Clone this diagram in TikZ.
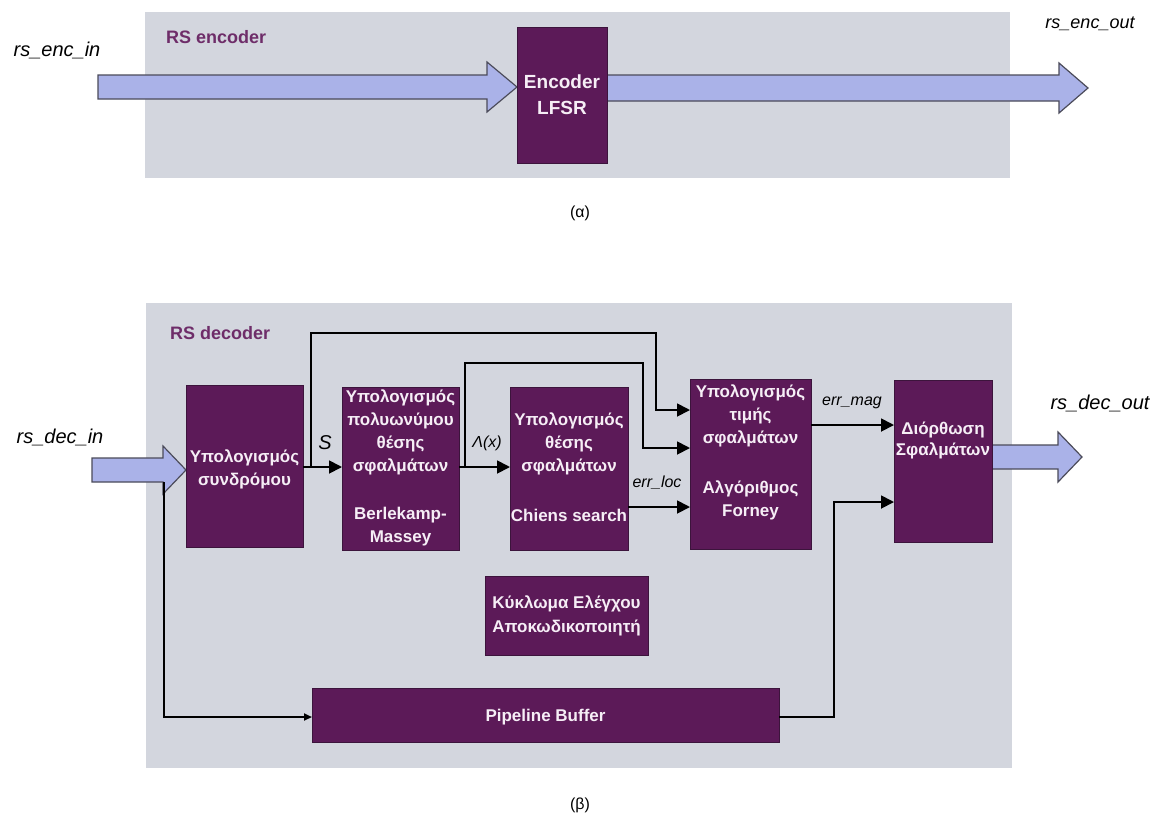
\documentclass[tikz,border=0pt]{standalone}
\usepackage{fontspec}
\setmainfont{Liberation Sans}
\usetikzlibrary{arrows.meta}
\definecolor{bggray}{RGB}{211,214,222}
\definecolor{boxpurple}{RGB}{92,26,88}
\definecolor{boxedge}{RGB}{60,20,60}
\definecolor{lblpurple}{RGB}{110,45,105}
\definecolor{fatfill}{RGB}{170,178,232}
\definecolor{fatedge}{RGB}{75,75,90}
\definecolor{boxtext}{RGB}{246,238,246}
\newcommand\bxf{\fontsize{17}{23}\selectfont\bfseries}
\newcommand\lblf{\fontsize{16}{20}\selectfont\itshape}
\begin{document}
\begin{tikzpicture}[x=1pt,y=-1pt,
  pbox/.style={fill=boxpurple,draw=boxedge,line width=0.8pt,inner sep=0pt,outer sep=0pt},
  btext/.style={text=boxtext,font=\bxf,align=center,inner sep=0pt},
  sig/.style={font=\lblf,inner sep=0pt},
  pin/.style={font=\fontsize{20}{24}\selectfont\itshape,inner sep=0pt},
  sect/.style={font=\fontsize{18}{22}\selectfont\bfseries,text=lblpurple,inner sep=0pt,anchor=west},
  line/.style={draw=black,line width=1.8pt},
  arr/.style={line,-{Triangle[length=13pt,width=13pt]}},
  fat/.style={fill=fatfill,draw=fatedge,line width=1.2pt},
  panel/.style={fill=bggray,draw=none},
  captxt/.style={font=\fontsize{16}{20}\selectfont,inner sep=0pt}]
\useasboundingbox (0,0) rectangle (1166,822);
\fill[white] (0,0) rectangle (1166,822);

% ---------- encoder ----------
\fill[panel] (145,12) rectangle (1010,178);
\node[sect] (enclbl) at (166,37) {RS encoder};
\node[pin] (encin) at (57,50) {rs\_enc\_in};
\node[pin,font=\fontsize{18}{22}\selectfont\itshape] (encout) at (1090,24) {rs\_enc\_out};
\path[fat] (98,75) -- (487,75) -- (487,62) -- (517,87) -- (487,112) -- (487,99) -- (98,99) -- cycle;
\path[fat] (607,75) -- (1059,75) -- (1059,63) -- (1088,88) -- (1059,113) -- (1059,101) -- (607,101) -- cycle;
\node[pbox,minimum width=90pt,minimum height=136pt] (enc) at (562,95) {};
\node[btext,font=\fontsize{19}{26}\selectfont\bfseries] (enct) at (562,95) {Encoder\\LFSR};
\node[captxt] (capa) at (580,213) {(α)};

% ---------- decoder ----------
\fill[panel] (146,303) rectangle (1012,768);
\node[sect] (declbl) at (170,333) {RS decoder};
\node[pin] (decin) at (60,437) {rs\_dec\_in};
\node[pin] (decout) at (1100,403) {rs\_dec\_out};

\path[fat] (92,458) -- (163,458) -- (163,446) -- (186,470) -- (163,494) -- (163,482) -- (92,482) -- cycle;
\path[fat] (992,445) -- (1058,445) -- (1058,432) -- (1082,457) -- (1058,482) -- (1058,469) -- (992,469) -- cycle;

\node[pbox,minimum width=117pt,minimum height=162pt] (syn) at (244.5,466) {};
\node[pbox,minimum width=117pt,minimum height=163pt] (bm) at (400.5,468.5) {};
\node[pbox,minimum width=118pt,minimum height=163pt] (chien) at (569,468.5) {};
\node[pbox,minimum width=121pt,minimum height=170pt] (forney) at (750.5,464) {};
\node[pbox,minimum width=98pt,minimum height=162pt] (corr) at (943,461) {};
\node[pbox,minimum width=163pt,minimum height=79pt] (ctrl) at (566.5,615.5) {};
\node[pbox,minimum width=467pt,minimum height=54pt] (pipe) at (545.5,715) {};

\node[btext] (synt) at (244.5,469) {Υπολογισμός\\συνδρόμου};
\node[btext] (bmt1) at (400.5,432) {Υπολογισμός\\πολυωνύμου\\θέσης\\σφαλμάτων};
\node[btext] (bmt2) at (400.5,527) {Berlekamp-\\Massey};
\node[btext] (cht1) at (569,444) {Υπολογισμός\\θέσης\\σφαλμάτων};
\node[btext] (cht2) at (569,515) {Chiens search};
\node[btext] (fot1) at (750.5,416) {Υπολογισμός\\τιμής\\σφαλμάτων};
\node[btext] (fot2) at (750.5,500) {Αλγόριθμος\\Forney};
\node[btext,font=\fontsize{17}{21}\selectfont\bfseries] (cot) at (943,440) {Διόρθωση\\Σφαλμάτων};
\node[btext,font=\fontsize{17}{24}\selectfont\bfseries] (ctt) at (566.5,616) {Κύκλωμα Ελέγχου\\Αποκωδικοποιητή};
\node[btext] (pit) at (545.5,717) {Pipeline Buffer};

% signal labels
\node[sig,font=\fontsize{20}{24}\selectfont\itshape] (slbl) at (325,443) {S};
\node[sig] (llbl) at (487,443) {Λ(x)};
\node[sig] (loclbl) at (657,483) {err\_loc};
\node[sig] (maglbl) at (852,403) {err\_mag};

% connectors
\coordinate (s1) at (311,467);
\coordinate (l1) at (465,467);
\coordinate (tap) at (164,482);
\draw[arr] (syn.east |- s1) -- (bm.west |- s1);
\draw[arr] (bm.east |- l1) -- (chien.west |- l1);
\draw[arr] (s1) -- (311,333) -- (656,333) -- (656,410) -- (forney.west |- 656,410);
\draw[arr] (l1) -- (465,363) -- (643,363) -- (643,448) -- (forney.west |- 643,448);
\draw[arr] (chien.east |- 0,507) -- (forney.west |- 0,507);
\draw[arr] (forney.east |- 0,425) -- (corr.west |- 0,425);
\draw[line,-{Triangle[length=8pt,width=7pt]}] (tap) -- (164,717) -- (pipe.west |- 0,717);
\draw[arr] (pipe.east |- 0,717) -- (834,717) -- (834,502) -- (corr.west |- 0,502);

\node[captxt] (capb) at (580,805) {(β)};
\end{tikzpicture}
\end{document}
